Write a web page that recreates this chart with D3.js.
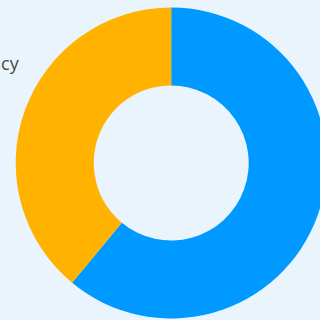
<!DOCTYPE html>
<html>
<head>
<meta charset="utf-8">
<script src="https://cdn.jsdelivr.net/npm/d3@7"></script>
<style>
  html, body { margin: 0; padding: 0; background: #EAF4FD; overflow: hidden; }
  svg { display: block; }
</style>
</head>
<body>
<svg id="chart" width="320" height="320"></svg>
<script>
// Share of systems by generation
const categories = ["Modern", "Legacy"];
const values = [61, 39];
const colors = ["#0099FF", "#FFB300"];

const width = 320, height = 320;
const cx = 171.2, cy = 163;
const outerR = 155.5, innerR = 77.5;

const svg = d3.select("#chart");
svg.append("rect").attr("width", width).attr("height", height).attr("fill", "#EAF4FD");

const pie = d3.pie().sort(null).value(d => d.value);
const arc = d3.arc().innerRadius(innerR).outerRadius(outerR);

const data = categories.map((c, i) => ({ name: c, value: values[i], color: colors[i] }));

const g = svg.append("g").attr("transform", `translate(${cx},${cy})`);
g.selectAll("path")
  .data(pie(data))
  .join("path")
  .attr("d", arc)
  .attr("fill", d => d.data.color);

// Category labels sit outside the ring on either side
const labelOffset = 152.5;
svg.selectAll("text.cat")
  .data(data)
  .join("text")
  .attr("class", "cat")
  .attr("x", (d, i) => i === 1 ? cx - labelOffset : cx + labelOffset)
  .attr("y", 70)
  .attr("text-anchor", (d, i) => i === 1 ? "end" : "start")
  .attr("font-family", "'Open Sans', sans-serif")
  .attr("font-size", 18)
  .attr("fill", "#4a4a4a")
  .text(d => d.name);
</script>
</body>
</html>
